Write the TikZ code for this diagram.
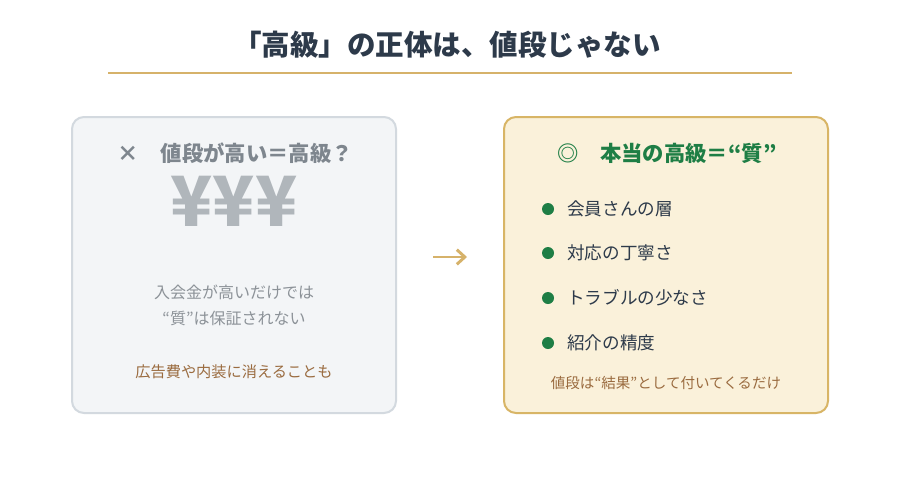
\documentclass[tikz,border=0pt]{standalone}
\usepackage{fontspec}
\setmainfont{Noto Sans CJK JP}
\usetikzlibrary{arrows.meta}
\definecolor{titlec}{HTML}{2D3A4A}
\definecolor{gold}{HTML}{D6B26A}
\definecolor{lfill}{HTML}{F3F5F7}
\definecolor{ldraw}{HTML}{D3D9DF}
\definecolor{lgray}{HTML}{7E868E}
\definecolor{lgray2}{HTML}{8C9298}
\definecolor{yen}{HTML}{B0B6BB}
\definecolor{brown}{HTML}{9A6B3F}
\definecolor{rfill}{HTML}{FAF1DA}
\definecolor{rdraw}{HTML}{D8B566}
\definecolor{green}{HTML}{1E7E45}
\newcommand{\fs}[1]{\fontsize{#1}{#1}\selectfont}
\begin{document}
\begin{tikzpicture}[x=0.75pt,y=-0.75pt,
  panel/.style={rounded corners=9pt, line width=1.5pt},
  txt/.style={inner sep=0pt, anchor=center},
  bul/.style={circle, fill=green, inner sep=0pt, minimum size=9pt},
  item/.style={inner sep=0pt, anchor=west, text=titlec, font=\fs{13.2pt}}]
\useasboundingbox[fill=white] (0,0) rectangle (900,486);
\node[txt, text=titlec, font=\fs{21.4pt}\bfseries] (title) at (447,45) {「高級」の正体は、値段じゃない};
\draw[gold, line width=1.5pt] (108,73) coordinate (l1) -- (792,73) coordinate (l2);
% left panel
\draw[panel, fill=lfill, draw=ldraw] (72,117) rectangle (396,413);
\node[txt, text=lgray, font=\fs{16pt}\bfseries] (lhead) at (235,153) {×\hspace{1.05em}値段が高い＝高級？};
\node[txt, text=yen, font=\fs{52pt}\bfseries] (yen) at (234,201) {¥¥¥};
\node[txt, text=lgray2, font=\fs{12pt}, align=center] (l1t) at (234,292) {入会金が高いだけでは};
\node[txt, text=lgray2, font=\fs{12pt}, align=center] (l2t) at (234,318) {“質”は保証されない};
\node[txt, text=brown, font=\fs{11.4pt}] (l3t) at (234,372) {広告費や内装に消えることも};
% arrow
\coordinate (a1) at (433,257);
\coordinate (a2) at (467,257);
\draw[gold, line width=2.2pt, -{Straight Barb[length=6pt,width=11pt,line width=2.2pt]}] (a1) -- (a2);
% right panel
\draw[panel, fill=rfill, draw=rdraw] (504,117) rectangle (828,413);
\node[txt, text=green, font=\fs{16pt}\bfseries] (rhead) at (667,153) {◎\hspace{1em}本当の高級＝“質”};
\foreach \y/\t/\n in {209/会員さんの層/a, 253/対応の丁寧さ/b, 298/トラブルの少なさ/c, 343/紹介の精度/d}{
  \node[bul] (b\n) at (548,\y) {};
  \node[item] (t\n) at (567,\y) {\t};
}
\node[txt, text=brown, font=\fs{10.9pt}] (rfoot) at (666,383) {値段は“結果”として付いてくるだけ};
\end{tikzpicture}
\end{document}
